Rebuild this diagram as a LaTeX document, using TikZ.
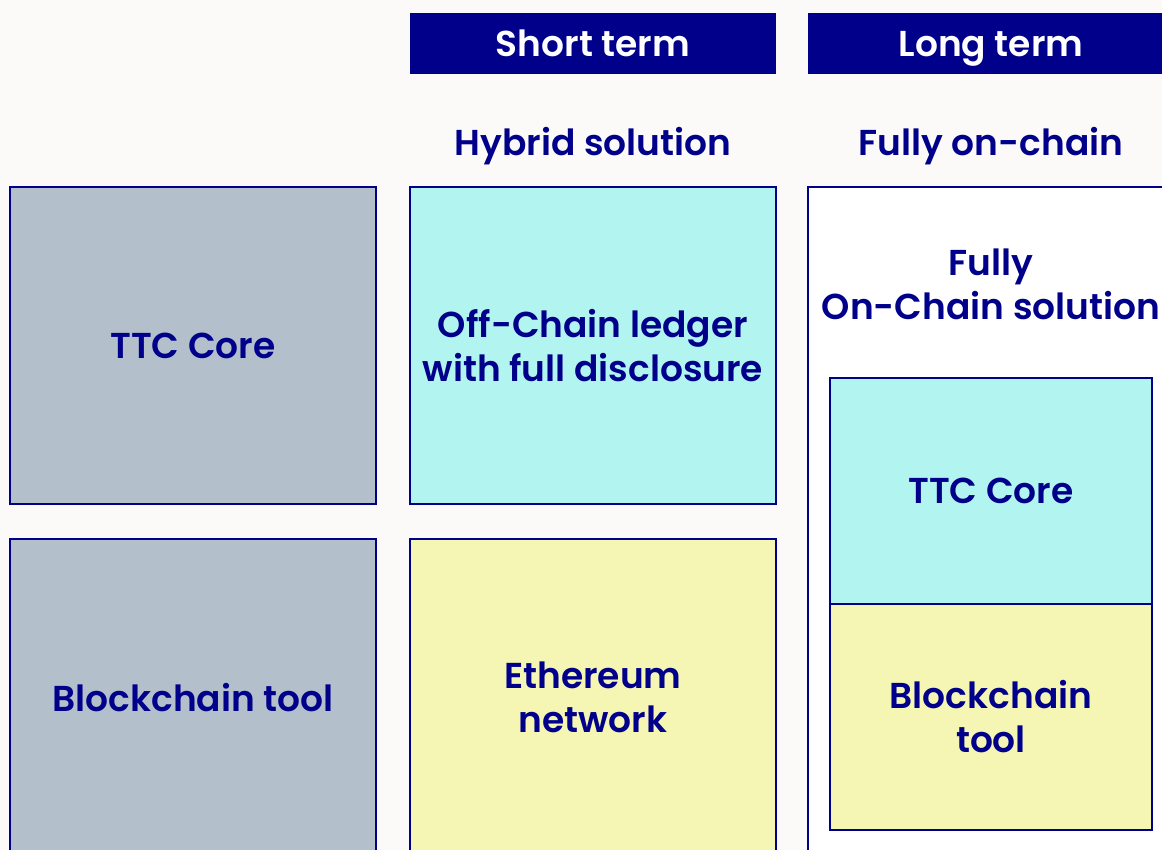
\documentclass[tikz,border=0pt]{standalone}
\usepackage{fontspec}
\setmainfont{Poppins SemiBold}
\usetikzlibrary{positioning}

\definecolor{navy}{HTML}{00008B}
\definecolor{pagebg}{HTML}{FBFAF9}
\definecolor{coregrey}{HTML}{B3C0CB}
\definecolor{chaincyan}{HTML}{B2F5F0}
\definecolor{chainyellow}{HTML}{F5F5B4}

\tikzset{
  cell/.style={draw=navy, line width=2.8pt, text=navy, align=center,
    minimum width=366pt, minimum height=317pt, inner sep=0pt,
    font=\fontsize{36}{44}\selectfont},
  header/.style={fill=navy, text=white, minimum width=366pt,
    minimum height=61pt, inner sep=0pt, text height=27pt, text depth=0pt,
    font=\fontsize{36}{40}\selectfont},
  caption/.style={text=navy, inner sep=0pt, text height=27pt, text depth=0pt,
    font=\fontsize{36}{40}\selectfont}
}

\begin{document}
\begin{tikzpicture}[x=1pt, y=-1pt]
    % page and clip (boxes run past the lower and right edges)
    \fill[pagebg] (0,0) rectangle (1162,850);
    \useasboundingbox (0,0) rectangle (1162,850);
    \clip (0,0) rectangle (1162,850);

    % Column headers
    \node[header] (short) at (593,43.5) {Short term};
    \node[header] (long)  at (991,43.5) {Long term};
    \node[caption] (hybrid) at (593,142) {Hybrid solution};
    \node[caption] (onchain) at (991,142) {Fully on-chain};

    % Today: core plus tool
    \node[cell, fill=coregrey] (ttc) at (193,345.5) {TTC Core};
    \node[cell, fill=coregrey] (tool) at (193,697.5) {Blockchain tool};

    % Short term: hybrid
    \node[cell, fill=chaincyan] (ledger) at (593,345.5)
        {Off-Chain ledger\\with full disclosure};
    \node[cell, fill=chainyellow] (eth) at (593,697.5) {Ethereum\\network};

    % Long term: fully on-chain
    \node[cell, fill=white, minimum height=700pt] (full) at (991,537) {};
    \node[text=navy, align=center, font=\fontsize{36}{44}\selectfont]
        (fulltitle) at (991,284) {Fully\\On-Chain solution};
    \node[cell, fill=chaincyan, minimum width=322pt, minimum height=226pt]
        (ttcin) at (991,491) {TTC Core};
    \node[cell, fill=chainyellow, minimum width=322pt, minimum height=226pt]
        (toolin) at (991,717) {Blockchain\\tool};
\end{tikzpicture}
\end{document}
